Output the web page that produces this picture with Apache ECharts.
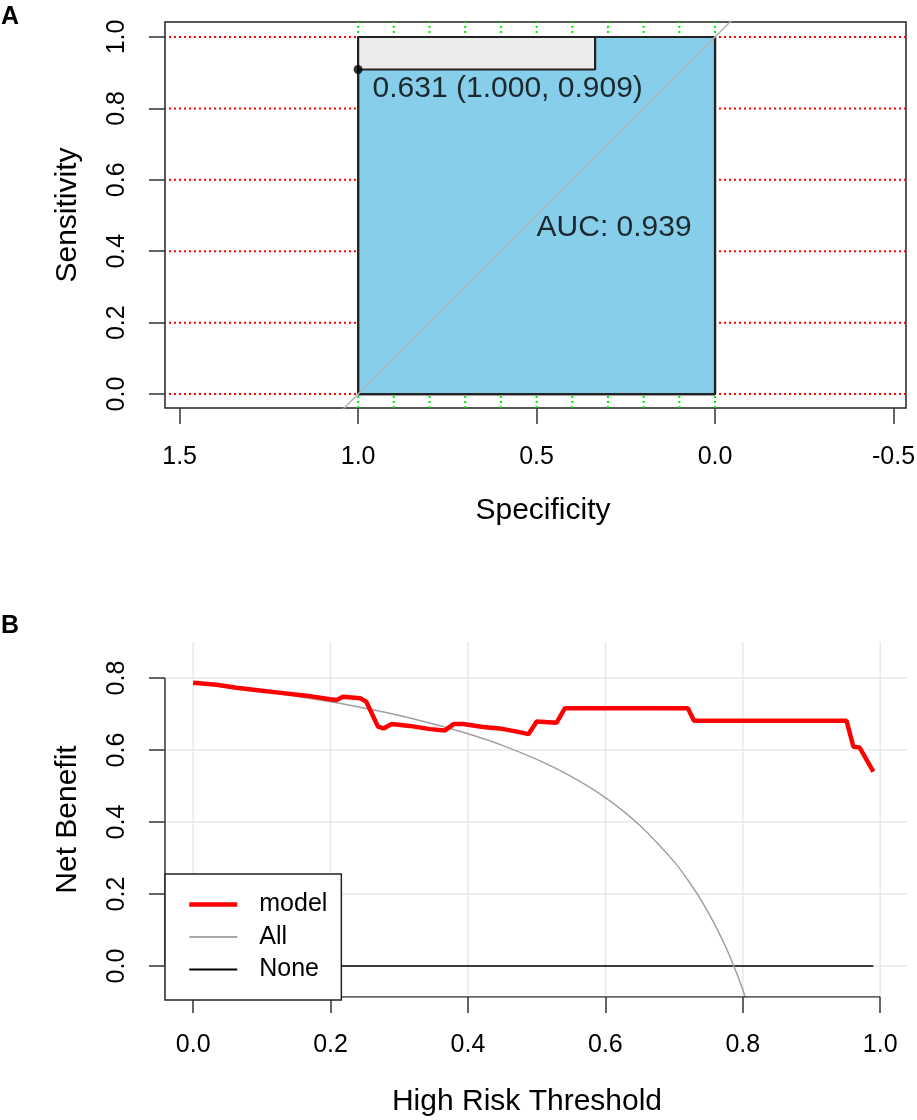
<!DOCTYPE html>
<html><head><meta charset="utf-8">
<script src="https://cdn.jsdelivr.net/npm/echarts@6/dist/echarts.min.js"></script>
<style>html,body{margin:0;padding:0;background:#fff}#c{width:917px;height:1120px}</style>
</head><body><div id="c"></div>
<script>
// ---------- Panel A: ROC ----------
const rocSpec = [1, 1, 0.336, 0.336, 0, 0, 1];
const rocSens = [0, 0.909, 0.909, 1, 1, 0, 0];
const maxAucSpec = [1, 0];
const maxAucSens = [1, 1];
const squareSpec = [1, 1, 0, 0, 1];
const squareSens = [0, 1, 1, 0, 0];
const diagSpec = [1.2, -0.2];
const diagSens = [-0.2, 1.2];
const bestThreshold = 0.631, bestSpec = 1.000, bestSens = 0.909;
const aucValue = 0.939;
const rocXTicks = [1.5, 1.0, 0.5, 0.0, -0.5];
const rocYTicks = [0.0, 0.2, 0.4, 0.6, 0.8, 1.0];
const rocVGrid = [0, 0.1, 0.2, 0.3, 0.4, 0.5, 0.6, 0.7, 0.8, 0.9, 1.0];
const rocHGrid = [0, 0.2, 0.4, 0.6, 0.8, 1.0];
const rocXRange = [-0.535, 1.541];
const rocYRange = [-0.039, 1.042];

// ---------- Panel B: decision curve ----------
const modelThr = [0, 0.034, 0.063, 0.097, 0.131, 0.165, 0.199, 0.209, 0.218, 0.243, 0.252, 0.269, 0.277, 0.289, 0.315, 0.345, 0.366, 0.379, 0.393, 0.422, 0.446, 0.471, 0.488, 0.500, 0.529, 0.541, 0.720, 0.729, 0.951, 0.961, 0.970, 0.990];
const modelNB  = [0.787, 0.781, 0.773, 0.765, 0.758, 0.751, 0.741, 0.739, 0.748, 0.744, 0.734, 0.665, 0.660, 0.672, 0.667, 0.658, 0.654, 0.672, 0.672, 0.664, 0.660, 0.651, 0.644, 0.679, 0.676, 0.716, 0.716, 0.681, 0.681, 0.609, 0.607, 0.540];
const allThr = [0, 0.05, 0.10, 0.15, 0.20, 0.25, 0.30, 0.35, 0.40, 0.45, 0.50, 0.55, 0.60, 0.65, 0.70, 0.72, 0.74, 0.76, 0.78, 0.80, 0.805];
const allNB  = [0.787, 0.776, 0.763, 0.749, 0.734, 0.716, 0.696, 0.672, 0.645, 0.613, 0.574, 0.527, 0.468, 0.391, 0.290, 0.239, 0.181, 0.112, 0.032, -0.065, -0.10];
const noneThr = [0, 0.99];
const noneNB = [0, 0];
const dcaXTicks = [0.0, 0.2, 0.4, 0.6, 0.8, 1.0];
const dcaYTicks = [0.0, 0.2, 0.4, 0.6, 0.8];
const dcaXRange = [-0.041, 1.039];
const dcaYRange = [-0.086, 0.9];

const FONT = '"Liberation Sans", Arial, sans-serif';
const zip = (a, b) => a.map((v, i) => [v, b[i]]);
const fmt1 = v => Number(v).toFixed(1);

function seg(xi, data, style, z) {
  return {type: 'line', xAxisIndex: xi, yAxisIndex: xi, data: data, symbol: 'none',
    lineStyle: style, z: z, silent: true, animation: false};
}
const series = [];
// ROC grid lines
rocHGrid.forEach(v => series.push(seg(0, [[rocXRange[0], v], [rocXRange[1], v]],
  {color: '#ff0000', width: 2, type: [2, 3]}, 1)));
rocVGrid.forEach(v => series.push(seg(0, [[v, rocYRange[0]], [v, rocYRange[1]]],
  {color: '#00ee00', width: 2, type: [2, 3]}, 1)));
// max AUC polygon (grey)
series.push(Object.assign(seg(0, zip(maxAucSpec, maxAucSens), {width: 0}, 2),
  {areaStyle: {color: '#ececec', opacity: 1}}));
// AUC polygon (sky blue) + ROC curve
series.push(Object.assign(seg(0, zip(rocSpec, rocSens), {color: '#222', width: 2.2}, 3),
  {areaStyle: {color: '#87ceeb', opacity: 1}}));
// square outline
series.push(seg(0, zip(squareSpec, squareSens), {color: '#222', width: 2.2}, 4));
// identity line
series.push(Object.assign(seg(0, zip(diagSpec, diagSens), {color: '#b4b4b4', width: 1.5}, 5), {clip: true}));
// best threshold point
series.push({type: 'scatter', xAxisIndex: 0, yAxisIndex: 0, z: 6, symbolSize: 9,
  itemStyle: {color: '#000'}, data: [[bestSpec, bestSens]], animation: false,
  label: {show: true, position: 'right', distance: 10, offset: [0, 19],
    formatter: () => bestThreshold.toFixed(3) + ' (' + bestSpec.toFixed(3) + ', ' + bestSens.toFixed(3) + ')',
    fontFamily: FONT, fontSize: 30, color: '#000'}});
// AUC text
series.push({type: 'scatter', xAxisIndex: 0, yAxisIndex: 0, z: 6, symbolSize: 0,
  data: [[0.5, 0.5]], animation: false,
  label: {show: true, position: 'right', distance: 0, offset: [0, 12],
    formatter: () => 'AUC: ' + aucValue.toFixed(3), fontFamily: FONT, fontSize: 30, color: '#000'}});

// DCA grid lines
dcaYTicks.forEach(v => series.push(seg(1, [[dcaXRange[0], v], [dcaXRange[1], v]],
  {color: '#e8e8e8', width: 1.5}, 1)));
dcaXTicks.forEach(v => series.push(seg(1, [[v, dcaYRange[0]], [v, dcaYRange[1]]],
  {color: '#e8e8e8', width: 1.5}, 1)));
// axis lines (R style: span first to last tick)
series.push(seg(1, [[dcaXTicks[0], dcaYRange[0]], [dcaXTicks[dcaXTicks.length - 1], dcaYRange[0]]], {color: '#333', width: 1.5}, 8));
series.push(seg(1, [[dcaXRange[0], dcaYTicks[0]], [dcaXRange[0], dcaYTicks[dcaYTicks.length - 1]]], {color: '#333', width: 1.5}, 8));
// curves
const clear = {color: 'rgba(0,0,0,0)', borderWidth: 0};
series.push({name: 'None', type: 'line', xAxisIndex: 1, yAxisIndex: 1, data: zip(noneThr, noneNB),
  symbol: 'none', lineStyle: {color: '#000', width: 1.6}, itemStyle: clear, z: 3, animation: false});
series.push({name: 'All', type: 'line', xAxisIndex: 1, yAxisIndex: 1, data: zip(allThr, allNB), clip: true,
  symbol: 'none', smooth: 0.3, lineStyle: {color: '#a0a0a0', width: 1.5}, itemStyle: clear, z: 4, animation: false});
series.push({name: 'model', type: 'line', xAxisIndex: 1, yAxisIndex: 1, data: zip(modelThr, modelNB),
  symbol: 'none', lineStyle: {color: '#ff0000', width: 4.5}, itemStyle: clear, z: 5, animation: false});

const tickStyle = {lineStyle: {color: '#333', width: 1.5}, length: 16, inside: false};
const lblStyle = {fontFamily: FONT, fontSize: 25, color: '#000'};
const nameStyle = {fontFamily: FONT, fontSize: 30, color: '#000'};
const noLine = {show: false, onZero: false};

const option = {
  animation: false,
  backgroundColor: '#fff',
  title: [
    {text: 'A', left: 1, top: 5, padding: 0, textStyle: {fontFamily: FONT, fontWeight: 'bold', fontSize: 25, color: '#000'}},
    {text: 'B', left: 1, top: 614, padding: 0, textStyle: {fontFamily: FONT, fontWeight: 'bold', fontSize: 25, color: '#000'}}
  ],
  grid: [
    {left: 165, top: 22, width: 741, height: 386, show: true, borderColor: '#222', borderWidth: 1.5,
      backgroundColor: '#fff', outerBoundsMode: 'none', containLabel: false},
    {left: 165, top: 642, width: 742, height: 355, outerBoundsMode: 'none', containLabel: false}
  ],
  xAxis: [
    {type: 'value', gridIndex: 0, inverse: true, min: rocXRange[0], max: rocXRange[1],
      name: 'Specificity', nameLocation: 'middle', nameGap: 88,
      nameTextStyle: Object.assign({padding: [0, 0, 0, 15]}, nameStyle),
      axisLine: noLine, splitLine: {show: false},
      axisTick: Object.assign({customValues: rocXTicks}, tickStyle),
      axisLabel: Object.assign({customValues: rocXTicks, formatter: fmt1, margin: 37}, lblStyle)},
    {type: 'value', gridIndex: 1, min: dcaXRange[0], max: dcaXRange[1],
      name: 'High Risk Threshold', nameLocation: 'middle', nameGap: 90,
      nameTextStyle: Object.assign({padding: [0, 18, 0, 0]}, nameStyle),
      axisLine: noLine, splitLine: {show: false},
      axisTick: Object.assign({customValues: dcaXTicks}, tickStyle),
      axisLabel: Object.assign({customValues: dcaXTicks, formatter: fmt1, margin: 36}, lblStyle)}
  ],
  yAxis: [
    {type: 'value', gridIndex: 0, min: rocYRange[0], max: rocYRange[1],
      name: 'Sensitivity', nameLocation: 'middle', nameGap: 82, nameTextStyle: nameStyle,
      axisLine: noLine, splitLine: {show: false},
      axisTick: Object.assign({customValues: rocYTicks}, tickStyle),
      axisLabel: Object.assign({customValues: rocYTicks, formatter: fmt1, rotate: 90, margin: 35}, lblStyle)},
    {type: 'value', gridIndex: 1, min: dcaYRange[0], max: dcaYRange[1],
      name: 'Net Benefit', nameLocation: 'middle', nameGap: 82, nameTextStyle: nameStyle,
      axisLine: noLine, splitLine: {show: false},
      axisTick: Object.assign({customValues: dcaYTicks}, tickStyle),
      axisLabel: Object.assign({customValues: dcaYTicks, formatter: fmt1, rotate: 90, margin: 35}, lblStyle)}
  ],
  legend: {
    data: [
      {name: 'model', lineStyle: {width: 4.5, color: '#ff0000'}, itemStyle: clear},
      {name: 'All', lineStyle: {width: 1.8, color: '#a8a8a8'}, itemStyle: clear},
      {name: 'None', lineStyle: {width: 1.8, color: '#000'}, itemStyle: clear}
    ],
    orient: 'vertical', left: 165, top: 874,
    padding: [18, 14, 18, 22], itemGap: 7.5, itemWidth: 48, itemHeight: 14,
    backgroundColor: '#fff', borderColor: '#222', borderWidth: 1.5, borderRadius: 0,
    selectedMode: false, z: 20, itemStyle: {opacity: 0},
    textStyle: {fontFamily: FONT, fontSize: 25, color: '#000', padding: [0, 0, 0, 17]}
  },
  series: series
};
const chart = echarts.init(document.getElementById('c'), null, {renderer: 'canvas'});
chart.setOption(option);
</script></body></html>
